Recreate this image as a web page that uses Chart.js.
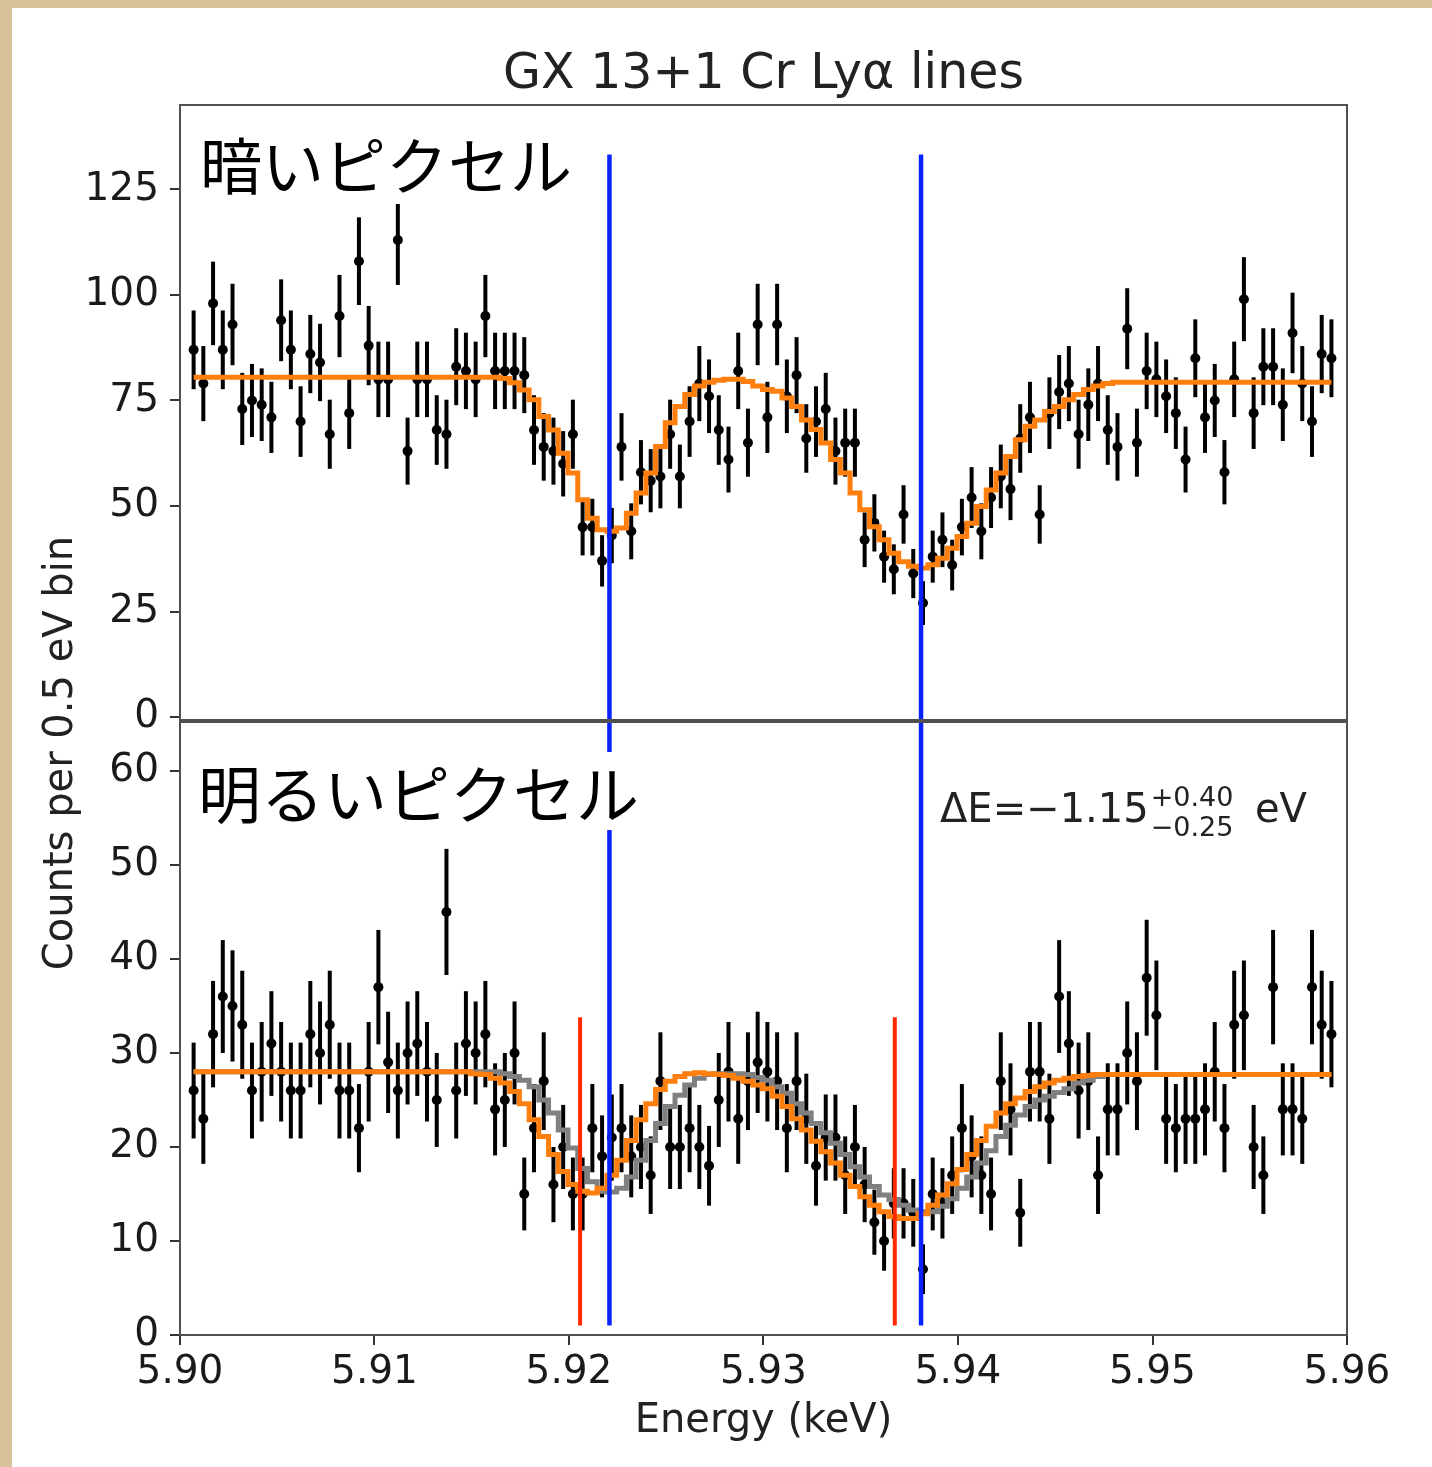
<!DOCTYPE html>
<html>
<head>
<meta charset="utf-8">
<title>GX 13+1 Cr Lyα lines</title>
<script src="https://cdn.jsdelivr.net/npm/chart.js@4.4.1/dist/chart.umd.min.js"></script>
<style>
  body { margin: 0; background: #d9c29b; }
  #wrap { position: absolute; left: 0; top: 0; width: 1432px; height: 1467px; overflow: hidden; }
  #card { position: absolute; left: 12px; top: 8px; width: 1420px; height: 1459px; background: #fff; }
  canvas { position: absolute; left: 0; top: 0; }
</style>
</head>
<body>
<div id="wrap">
  <div id="card"></div>
  <canvas id="dark" width="1432" height="1467" style="width:1432px;height:1467px"></canvas>
  <canvas id="bright" width="1432" height="1467" style="width:1432px;height:1467px"></canvas>
</div>
<script>
// bin centres (keV), 0.5 eV bins
const energy = [
  5.9007, 5.9012, 5.9017, 5.9022, 5.9027, 5.9032, 5.9037, 5.9042, 5.9047, 5.9052,
  5.9057, 5.9062, 5.9067, 5.9072, 5.9077, 5.9082, 5.9087, 5.9092, 5.9097, 5.9102,
  5.9107, 5.9112, 5.9117, 5.9122, 5.9127, 5.9132, 5.9137, 5.9142, 5.9147, 5.9152,
  5.9157, 5.9162, 5.9167, 5.9172, 5.9177, 5.9182, 5.9187, 5.9192, 5.9197, 5.9202,
  5.9207, 5.9212, 5.9217, 5.9222, 5.9227, 5.9232, 5.9237, 5.9242, 5.9247, 5.9252,
  5.9257, 5.9262, 5.9267, 5.9272, 5.9277, 5.9282, 5.9287, 5.9292, 5.9297, 5.9302,
  5.9307, 5.9312, 5.9317, 5.9322, 5.9327, 5.9332, 5.9337, 5.9342, 5.9347, 5.9352,
  5.9357, 5.9362, 5.9367, 5.9372, 5.9377, 5.9382, 5.9387, 5.9392, 5.9397, 5.9402,
  5.9407, 5.9412, 5.9417, 5.9422, 5.9427, 5.9432, 5.9437, 5.9442, 5.9447, 5.9452,
  5.9457, 5.9462, 5.9467, 5.9472, 5.9477, 5.9482, 5.9487, 5.9492, 5.9497, 5.9502,
  5.9507, 5.9512, 5.9517, 5.9522, 5.9527, 5.9532, 5.9537, 5.9542, 5.9547, 5.9552,
  5.9557, 5.9562, 5.9567, 5.9572, 5.9577, 5.9582, 5.9587, 5.9592
];

// top panel: dark pixels
const darkCounts = [
  87, 79, 98, 87, 93, 73, 75, 74, 71, 94,
  87, 70, 86, 84, 67, 95, 72, 108, 88, 80,
  80, 113, 63, 80, 80, 68, 67, 83, 82, 80,
  95, 82, 82, 82, 81, 68, 64, 63, 60, 67,
  45, 45, 37, 43, 64, 44, 58, 56, 57, 67,
  57, 70, 79, 76, 68, 61, 82, 65, 93, 71,
  93, 76, 81, 66, 70, 73, 63, 65, 65, 42,
  46, 38, 35, 48, 34, 27, 38, 42, 36, 45,
  52, 44, 52, 57, 54, 66, 71, 48, 72, 77,
  79, 67, 74, 79, 68, 64, 92, 65, 82, 80,
  76, 72, 61, 85, 71, 75, 58, 80, 99, 72,
  83, 83, 74, 91, 79, 70, 86, 85
];
const darkModel = [
  80.5, 80.5, 80.5, 80.5, 80.5, 80.5, 80.5, 80.5, 80.5, 80.5,
  80.5, 80.5, 80.5, 80.5, 80.5, 80.5, 80.5, 80.5, 80.5, 80.5,
  80.5, 80.5, 80.5, 80.5, 80.5, 80.5, 80.5, 80.5, 80.5, 80.5,
  80.5, 80.5, 80.2, 79.2, 77.5, 75.2, 71.2, 68.0, 62.5, 57.8,
  51.5, 47.1, 44.4, 44.0, 44.8, 48.3, 53.1, 57.8, 64.1, 69.7,
  73.6, 76.4, 78.4, 79.3, 79.8, 80.0, 80.0, 79.5, 78.4, 77.6,
  77.2, 75.6, 73.6, 70.4, 68.1, 64.9, 61.0, 57.8, 53.1, 49.1,
  45.1, 42.0, 38.8, 36.8, 35.7, 35.3, 36.1, 37.6, 40.0, 42.8,
  45.9, 49.9, 53.8, 57.8, 61.7, 65.7, 68.9, 70.4, 72.4, 73.6,
  75.2, 76.4, 77.6, 78.4, 79.0, 79.3, 79.3, 79.3, 79.3, 79.3,
  79.3, 79.3, 79.3, 79.3, 79.3, 79.3, 79.3, 79.3, 79.3, 79.3,
  79.3, 79.3, 79.3, 79.3, 79.3, 79.3, 79.3, 79.3
];

// bottom panel: bright pixels
const brightCounts = [
  26, 23, 32, 36, 35, 33, 26, 28, 31, 28,
  26, 26, 32, 30, 33, 26, 26, 22, 28, 37,
  29, 26, 30, 31, 28, 25, 45, 26, 31, 30,
  32, 24, 25, 30, 15, 22, 27, 16, 20, 15,
  15, 22, 19, 21, 22, 19, 20, 17, 27, 20,
  20, 22, 20, 18, 25, 28, 23, 27, 29, 28,
  27, 22, 27, 23, 18, 21, 21, 17, 20, 16,
  12, 10, 14, 14, 13, 7, 15, 14, 17, 22,
  19, 17, 15, 27, 24, 13, 28, 28, 23, 36,
  31, 26, 27, 17, 24, 24, 30, 27, 38, 34,
  23, 22, 23, 23, 24, 28, 22, 33, 34, 20,
  17, 37, 24, 24, 23, 37, 33, 32
];
const brightModel = [
  28.0, 28.0, 28.0, 28.0, 28.0, 28.0, 28.0, 28.0, 28.0, 28.0,
  28.0, 28.0, 28.0, 28.0, 28.0, 28.0, 28.0, 28.0, 28.0, 28.0,
  28.0, 28.0, 28.0, 28.0, 28.0, 28.0, 28.0, 28.0, 28.0, 27.8,
  27.7, 27.3, 26.8, 25.9, 24.6, 22.9, 21.1, 19.2, 17.4, 16.0,
  15.3, 15.1, 15.6, 17.0, 18.6, 20.7, 22.9, 24.6, 26.1, 27.0,
  27.5, 27.8, 27.9, 27.8, 27.7, 27.6, 27.3, 27.0, 26.6, 26.2,
  25.4, 24.3, 23.0, 21.8, 20.6, 19.5, 18.3, 17.0, 15.8, 14.7,
  13.8, 13.1, 12.6, 12.4, 12.4, 12.9, 13.8, 14.9, 16.1, 17.6,
  19.2, 20.7, 22.2, 23.6, 24.6, 25.2, 25.9, 26.4, 26.8, 27.1,
  27.3, 27.5, 27.6, 27.7, 27.7, 27.7, 27.7, 27.7, 27.7, 27.7,
  27.7, 27.7, 27.7, 27.7, 27.7, 27.7, 27.7, 27.7, 27.7, 27.7,
  27.7, 27.7, 27.7, 27.7, 27.7, 27.7, 27.7, 27.7
];
const brightModelNoShift = [
  28.0, 28.0, 28.0, 28.0, 28.0, 28.0, 28.0, 28.0, 28.0, 28.0,
  28.0, 28.0, 28.0, 28.0, 28.0, 28.0, 28.0, 28.0, 28.0, 28.0,
  28.0, 28.0, 28.0, 28.0, 28.0, 28.0, 28.0, 28.0, 28.0, 28.0,
  28.0, 28.0, 27.8, 27.5, 27.1, 26.4, 25.0, 23.6, 21.8, 19.9,
  17.7, 16.3, 15.3, 15.2, 15.6, 16.8, 18.6, 20.7, 22.5, 24.3,
  25.5, 26.6, 27.3, 27.7, 27.8, 27.8, 27.8, 27.7, 27.4, 27.1,
  26.4, 25.7, 24.6, 23.6, 22.5, 21.5, 20.4, 19.2, 17.9, 16.8,
  15.8, 14.9, 14.4, 13.8, 13.3, 13.1, 13.1, 13.7, 14.5, 15.6,
  16.8, 18.3, 19.6, 21.1, 22.3, 23.4, 24.3, 25.0, 25.4, 25.8,
  26.2, 26.8, 27.1, 27.5, 27.7, 27.7, 27.7, 27.7, 27.7, 27.7,
  27.7, 27.7, 27.7, 27.7, 27.7, 27.7, 27.7, 27.7, 27.7, 27.7,
  27.7, 27.7, 27.7, 27.7, 27.7, 27.7, 27.7, 27.7
];

// reference line energies (keV)
const restLines = [5.92208, 5.93810];
const shiftedLines = [5.92057, 5.93675];

// axes
const xTicks = [5.90, 5.91, 5.92, 5.93, 5.94, 5.95, 5.96];
const darkTicks = [0, 25, 50, 75, 100, 125];
const brightTicks = [0, 10, 20, 30, 40, 50, 60];

const FONT = 'DejaVu Sans';
const JP = '"Noto Sans CJK JP", "Noto Sans CJK SC", sans-serif';

function pts(xs, ys) {
  return xs.map((x, i) => ({x: x, y: ys[i]}));
}

function vline(x, y0, y1, color, width) {
  return {
    type: 'line', data: [{x: x, y: y0}, {x: x, y: y1}],
    borderColor: color, borderWidth: width, pointRadius: 0, order: 1
  };
}

// poisson error bars under the points
const errorBars = {
  id: 'errorBars',
  beforeDatasetsDraw(chart) {
    const ctx = chart.ctx, a = chart.chartArea;
    const xs = chart.scales.x, ys = chart.scales.y;
    ctx.save();
    ctx.beginPath();
    ctx.rect(a.left, a.top, a.right - a.left, a.bottom - a.top);
    ctx.clip();
    ctx.strokeStyle = '#000';
    ctx.lineWidth = 4;
    chart.data.datasets[0].data.forEach(p => {
      const e = Math.sqrt(p.y);
      const px = xs.getPixelForValue(p.x);
      ctx.beginPath();
      ctx.moveTo(px, ys.getPixelForValue(p.y - e));
      ctx.lineTo(px, ys.getPixelForValue(p.y + e));
      ctx.stroke();
    });
    ctx.restore();
  }
};

const frame = {
  id: 'frame',
  afterDraw(chart) {
    const ctx = chart.ctx, a = chart.chartArea;
    ctx.save();
    ctx.strokeStyle = '#505050';
    ctx.lineWidth = 2;
    ctx.strokeRect(a.left, a.top, a.right - a.left, a.bottom - a.top);
    ctx.restore();
  }
};

function boxLabel(ctx, text, x, y, size, box) {
  ctx.save();
  ctx.fillStyle = '#fff';
  ctx.fillRect(box[0], box[1], box[2], box[3]);
  ctx.fillStyle = '#000';
  ctx.font = size + 'px ' + JP;
  ctx.textBaseline = 'middle';
  ctx.textAlign = 'left';
  ctx.fillText(text, x, y);
  ctx.restore();
}

const darkText = {
  id: 'darkText',
  afterDraw(chart) {
    const ctx = chart.ctx;
    ctx.save();
    ctx.fillStyle = '#222';
    ctx.font = '49px ' + FONT;
    ctx.textAlign = 'center';
    ctx.textBaseline = 'alphabetic';
    const a = chart.chartArea;
    ctx.fillText('GX 13+1 Cr Lyα lines', (a.left + a.right) / 2, 88);
    ctx.restore();
    boxLabel(ctx, '暗いピクセル', 200, 166, 62, [195, 122, 390, 82]);
  }
};

const brightText = {
  id: 'brightText',
  afterDraw(chart) {
    const ctx = chart.ctx;
    boxLabel(ctx, '明るいピクセル', 198, 794, 63, [195, 752, 452, 78]);

    ctx.save();
    ctx.fillStyle = '#222';
    ctx.textAlign = 'left';
    ctx.textBaseline = 'alphabetic';
    ctx.font = '40px ' + FONT;
    const main = 'ΔE=−1.15';
    ctx.fillText(main, 940, 822);
    const w = ctx.measureText(main).width;
    ctx.font = '27px ' + FONT;
    ctx.fillText('+0.40', 940 + w + 2, 806);
    ctx.fillText('−0.25', 940 + w + 2, 836);
    ctx.font = '40px ' + FONT;
    ctx.fillText('eV', 1255, 822);

    // shared y label across both panels
    ctx.translate(62, 753);
    ctx.rotate(-Math.PI / 2);
    ctx.textAlign = 'center';
    ctx.textBaseline = 'middle';
    ctx.fillText('Counts per 0.5 eV bin', 0, 0);
    ctx.restore();
  }
};

function yAxis(min, max, ticks) {
  return {
    min: min, max: max,
    afterFit: s => { s.width = 180; },
    afterBuildTicks: s => { s.ticks = ticks.map(v => ({value: v})); },
    grid: {drawOnChartArea: false, drawTicks: true, tickLength: 10, color: '#333', lineWidth: 2},
    border: {display: false},
    ticks: {padding: 11, color: '#1a1a1a', font: {family: FONT, size: 39}}
  };
}

const common = {
  responsive: false,
  animation: false,
  events: [],
  plugins: {legend: {display: false}, tooltip: {enabled: false}, title: {display: false}}
};

// top chart
new Chart(document.getElementById('dark'), {
  type: 'scatter',
  data: {
    datasets: [
      {data: pts(energy, darkCounts), pointRadius: 5, pointBackgroundColor: '#000', pointBorderWidth: 0, order: 5},
      {type: 'line', data: pts(energy, darkModel), borderColor: '#ff7f0e', borderWidth: 5,
       stepped: 'middle', pointRadius: 0, fill: false, order: 2},
      vline(restLines[0], 133.3, -5, '#0a22ff', 4.5),
      vline(restLines[1], 133.3, -5, '#0a22ff', 4.5)
    ]
  },
  options: Object.assign({}, common, {
    layout: {padding: {left: 0, right: 85, top: 105, bottom: 747}},
    scales: {
      x: {type: 'linear', min: 5.90, max: 5.96, display: false},
      y: yAxis(-0.7, 145, darkTicks)
    }
  }),
  plugins: [errorBars, frame, darkText]
});

// bottom chart
new Chart(document.getElementById('bright'), {
  type: 'scatter',
  data: {
    datasets: [
      {data: pts(energy, brightCounts), pointRadius: 5, pointBackgroundColor: '#000', pointBorderWidth: 0, order: 5},
      {type: 'line', data: pts(energy, brightModelNoShift), borderColor: '#808080', borderWidth: 5,
       stepped: 'middle', pointRadius: 0, fill: false, order: 3},
      {type: 'line', data: pts(energy, brightModel), borderColor: '#ff7f0e', borderWidth: 5,
       stepped: 'middle', pointRadius: 0, fill: false, order: 2},
      vline(restLines[0], 70, 1.0, '#0a22ff', 4.5),
      vline(restLines[1], 70, 1.0, '#0a22ff', 4.5),
      vline(shiftedLines[0], 33.8, 1.0, '#ff2a00', 4),
      vline(shiftedLines[1], 33.8, 1.0, '#ff2a00', 4)
    ]
  },
  options: Object.assign({}, common, {
    layout: {padding: {left: 0, right: 85, top: 722, bottom: 0}},
    scales: {
      x: {
        type: 'linear', min: 5.90, max: 5.96,
        afterFit: s => { s.height = 132; },
        afterBuildTicks: s => { s.ticks = xTicks.map(v => ({value: v})); },
        grid: {drawOnChartArea: false, drawTicks: true, tickLength: 10, color: '#333', lineWidth: 2},
        border: {display: false},
        ticks: {padding: 4, color: '#1a1a1a', font: {family: FONT, size: 39}, maxRotation: 0, autoSkip: false,
                callback: v => Number(v).toFixed(2)},
        title: {display: true, text: 'Energy (keV)', color: '#222', font: {family: FONT, size: 40},
                padding: {top: 0, bottom: 21}}
      },
      y: yAxis(0, 65.2, brightTicks)
    }
  }),
  plugins: [errorBars, frame, brightText]
});
</script>
</body>
</html>
